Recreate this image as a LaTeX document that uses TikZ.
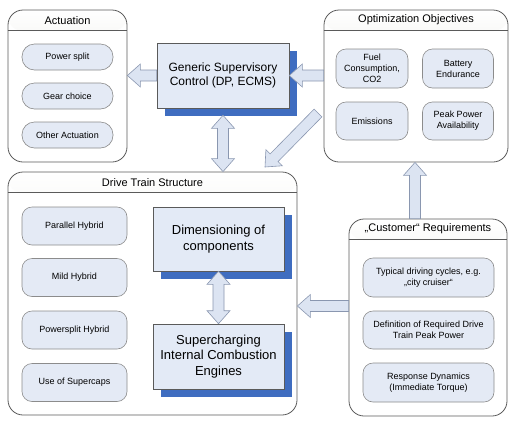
\documentclass[tikz,border=0pt]{standalone}
\usepackage{fontspec}
\setmainfont{Liberation Sans}
\usetikzlibrary{calc}
\usetikzlibrary{shadows}

\definecolor{pillblue}{HTML}{E4EAF5}
\definecolor{pillline}{HTML}{8C8C8C}
\definecolor{panelline}{HTML}{5A5A5A}
\definecolor{titlegray}{HTML}{D6D6CC}
\definecolor{boxblue}{HTML}{E3EAF6}
\definecolor{shadowblue}{HTML}{3F6DC0}
\definecolor{arrowfill}{HTML}{DCE4F2}
\definecolor{arrowline}{HTML}{8A97B0}

% block arrow from #1 (tail) to #2 (tip)
\newcommand{\blockarrow}[2]{%
  \coordinate (bah) at ($(#2)!13pt!(#1)$);
  \filldraw[blockarrow] ($(#1)!5.5pt!90:(#2)$) -- ($(bah)!5.5pt!-90:(#1)$)
    -- ($(bah)!11.5pt!-90:(#1)$) -- (#2) -- ($(bah)!11.5pt!90:(#1)$)
    -- ($(bah)!5.5pt!90:(#1)$) -- ($(#1)!5.5pt!-90:(#2)$) -- cycle;
}
% block arrow with tips at both ends
\newcommand{\blockdarrow}[2]{%
  \coordinate (bha) at ($(#1)!13pt!(#2)$);
  \coordinate (bhb) at ($(#2)!13pt!(#1)$);
  \filldraw[blockarrow] (#1) -- ($(bha)!11.5pt!90:(#2)$) -- ($(bha)!5.5pt!90:(#2)$)
    -- ($(bhb)!5.5pt!-90:(#1)$) -- ($(bhb)!11.5pt!-90:(#1)$) -- (#2)
    -- ($(bhb)!11.5pt!90:(#1)$) -- ($(bhb)!5.5pt!90:(#1)$)
    -- ($(bha)!5.5pt!-90:(#2)$) -- ($(bha)!11.5pt!-90:(#2)$) -- cycle;
}

\begin{document}
\begin{tikzpicture}[x=1pt, y=-1pt,
    panel/.style={draw=panelline, line width=0.8pt, fill=white, rounded corners=15pt,
      inner sep=0pt,
      path picture={\shade[top color=white, bottom color=titlegray]
        (path picture bounding box.north west) rectangle
        ([yshift=-21pt]path picture bounding box.north east);}},
    paneltitle/.style={inner sep=0pt, font=\fontsize{11}{13}\selectfont},
    sepline/.style={draw=panelline, line width=0.8pt},
    pill/.style={draw=pillline, line width=0.6pt, fill=pillblue, rounded corners=10pt,
      align=center, inner sep=1pt, font=\fontsize{9}{11}\selectfont},
    bluebox/.style={draw=panelline, line width=0.6pt, fill=boxblue, align=center,
      inner sep=2pt,
      drop shadow={shadow xshift=8pt, shadow yshift=-8pt, fill=shadowblue, opacity=1}},
    blockarrow/.style={fill=arrowfill, draw=arrowline, line width=0.6pt, line join=miter}]
  \useasboundingbox (0,0) rectangle (516,426);

  % Actuation
  \node[panel, minimum width=119pt, minimum height=152pt] (act) at (67.5,86) {};
  \node[paneltitle] (acttitle) at ([yshift=-10.5pt]act.north) {Actuation};
  \draw[sepline] ([yshift=-21pt]act.north west) -- ([yshift=-21pt]act.north east);
  \node[pill, rounded corners=12.5pt, minimum width=91pt, minimum height=26pt] (split) at (67.5,57) {Power split};
  \node[pill, rounded corners=12.5pt, minimum width=91pt, minimum height=26pt] (gear) at (67.5,96) {Gear choice};
  \node[pill, rounded corners=12.5pt, minimum width=91pt, minimum height=26pt] (other) at (67.5,135) {Other Actuation};

  % Optimization objectives
  \node[panel, minimum width=184pt, minimum height=152pt] (opt) at (416,86) {};
  \node[paneltitle] (opttitle) at ([yshift=-10.5pt]opt.north) {Optimization Objectives};
  \draw[sepline] ([yshift=-21pt]opt.north west) -- ([yshift=-21pt]opt.north east);
  \node[pill, minimum width=72pt, minimum height=39pt] (fuel) at (372,68.5) {Fuel\\Consumption,\\CO2};
  \node[pill, minimum width=71pt, minimum height=39pt] (battery) at (458,68.5) {Battery\\Endurance};
  \node[pill, minimum width=72pt, minimum height=38pt] (emis) at (372,121) {Emissions};
  \node[pill, minimum width=71pt, minimum height=38pt] (peak) at (458,121) {Peak Power\\Availability};

  % Drive train structure
  \node[panel, minimum width=289pt, minimum height=243pt] (drive) at (152.5,293.5) {};
  \node[paneltitle] (drivetitle) at ([yshift=-10.5pt]drive.north) {Drive Train Structure};
  \draw[sepline] ([yshift=-21pt]drive.north west) -- ([yshift=-21pt]drive.north east);
  \node[pill, minimum width=105pt, minimum height=38pt] (parallel) at (74.5,226) {Parallel Hybrid};
  \node[pill, minimum width=105pt, minimum height=38pt] (mild) at (74.5,277.5) {Mild Hybrid};
  \node[pill, minimum width=105pt, minimum height=38pt] (psplit) at (74.5,330) {Powersplit Hybrid};
  \node[pill, minimum width=105pt, minimum height=38pt] (scaps) at (74.5,382.5) {Use of Supercaps};

  % Customer requirements
  \node[panel, minimum width=158pt, minimum height=197pt] (cust) at (428,317.5) {};
  \node[paneltitle] (custtitle) at ([yshift=-10.5pt]cust.north) {„Customer“ Requirements};
  \draw[sepline] ([yshift=-21pt]cust.north west) -- ([yshift=-21pt]cust.north east);
  \node[pill, minimum width=131pt, minimum height=39pt] (cycles) at (428.5,277.5) {Typical driving cycles, e.g.\\„city cruiser“};
  \node[pill, minimum width=131pt, minimum height=38pt] (peakdef) at (428.5,330) {Definition of Required Drive\\Train Peak Power};
  \node[pill, minimum width=131pt, minimum height=39pt] (resp) at (428.5,382.5) {Response Dynamics\\(Immediate Torque)};

  % Blue boxes
  \node[bluebox, minimum width=132pt, minimum height=65pt, font=\fontsize{12}{14.5}\selectfont] (gsc) at (223,75.5) {Generic Supervisory\\Control (DP, ECMS)};
  \node[bluebox, minimum width=131pt, minimum height=64pt, font=\fontsize{13}{15.5}\selectfont] (dim) at (218.5,239) {Dimensioning of\\components};
  \node[bluebox, minimum width=131pt, minimum height=65pt, font=\fontsize{13}{15.5}\selectfont] (super) at (218.5,356.5) {Supercharging\\Internal Combustion\\Engines};

  % Arrows
  \coordinate (acttip) at (act.east |- gsc.west);
  \coordinate (opttail) at (opt.west |- gsc.east);
  \coordinate (gscbot) at ([yshift=-7pt]gsc.south);
  \coordinate (drivetop) at (gsc.south |- drive.north);
  \coordinate (diagtail) at (318,113);
  \coordinate (diagtip) at (265,167);
  \coordinate (custtail) at ([yshift=11.5pt]cust.west);
  \coordinate (drivetip) at (drive.east |- custtail);
  \coordinate (custtop) at ([xshift=-13pt]cust.north);
  \coordinate (opttip) at (custtop |- opt.south);
  \coordinate (dimbot) at (dim.south);
  \coordinate (supertop) at (super.north);

  \blockarrow{gsc.west}{acttip}
  \blockarrow{opttail}{gsc.east}
  \blockdarrow{gscbot}{drivetop}
  \blockarrow{diagtail}{diagtip}
  \blockarrow{custtail}{drivetip}
  \blockarrow{custtop}{opttip}
  \blockdarrow{dimbot}{supertop}
\end{tikzpicture}
\end{document}
